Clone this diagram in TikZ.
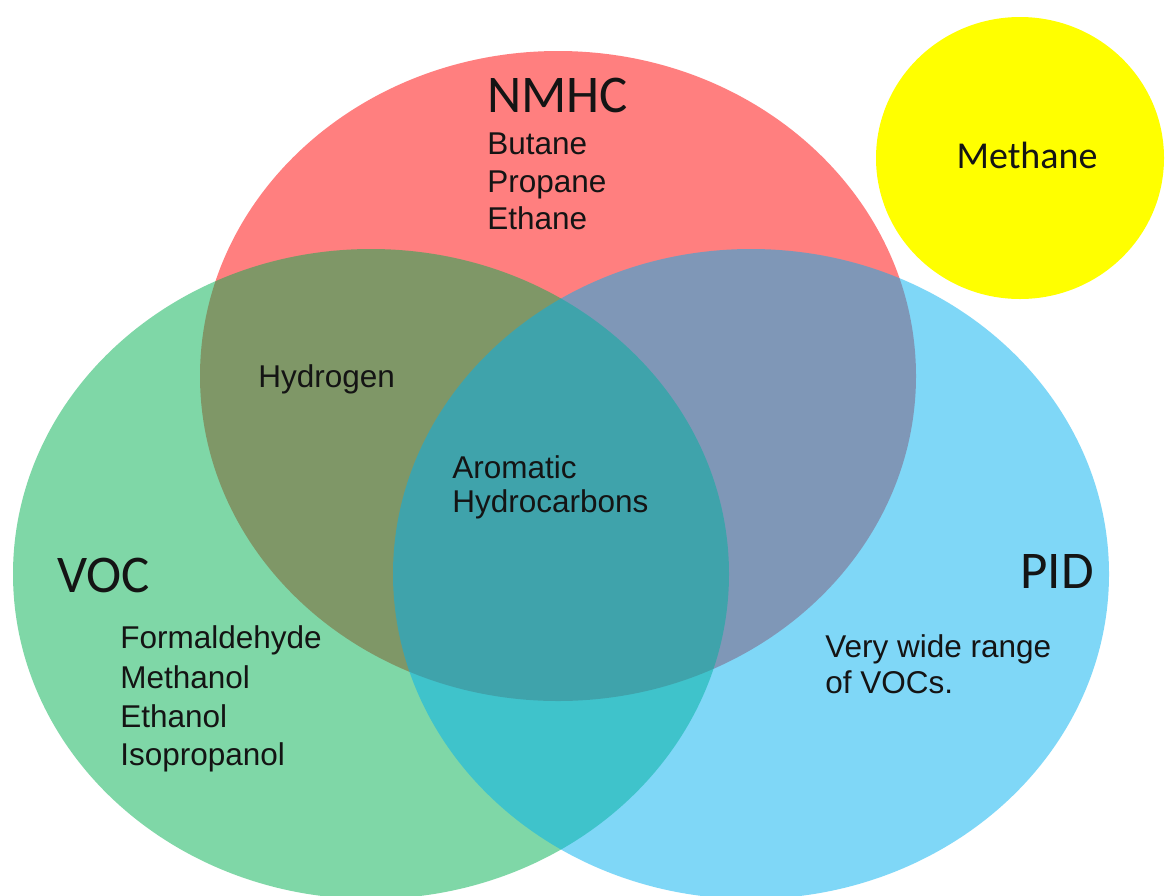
\documentclass[tikz,border=0pt]{standalone}
\usepackage{fontspec}
\setmainfont{Liberation Sans}
\newfontfamily\headfont{Carlito}
\definecolor{nmhc}{HTML}{FF0000}
\definecolor{voc}{HTML}{00B050}
\definecolor{pid}{HTML}{00B0F0}
\definecolor{methane}{HTML}{FFFF00}
\definecolor{ink}{HTML}{141414}
\tikzset{
  setfill/.style={fill opacity=0.5},
  heading/.style={font=\headfont\fontsize{26.5}{32}\selectfont,text=ink,
                  inner sep=0pt,anchor=base west},
  item/.style={font=\fontsize{15.75}{19}\selectfont,text=ink,
               inner sep=0pt,anchor=base west}
}

\begin{document}
\begin{tikzpicture}[x=0.5pt,y=-0.5pt]
  \fill[white] (0,0) rectangle (1166,895);
  \useasboundingbox (0,0) rectangle (1166,895);

  % Sets
  \fill[nmhc,setfill] (558,376) ellipse [x radius=358,y radius=325];
  \fill[voc,setfill] (371,574) ellipse [x radius=358,y radius=325];
  \fill[pid,setfill] (751,574) ellipse [x radius=358,y radius=325];
  \fill[methane] (1020,158) ellipse [x radius=144,y radius=141];

  % NMHC
  \node[heading] (nmhc) at (487,112) {NMHC};
  \node[item] (butane) at (487,154) {Butane};
  \node[item] (propane) at (487,192) {Propane};
  \node[item] (ethane) at (487,229) {Ethane};

  % Methane
  \node[heading,anchor=base,font=\headfont\fontsize{19}{23}\selectfont]
    (methanetxt) at (1027,168) {Methane};

  % Overlaps
  \node[item] (hydrogen) at (258,387) {Hydrogen};
  \node[item] (aromatic) at (452,478) {Aromatic};
  \node[item] (hydrocarb) at (452,512) {Hydrocarbons};

  % VOC
  \node[heading] (voc) at (57,592) {VOC};
  \node[item] (formald) at (120,648) {Formaldehyde};
  \node[item] (methanol) at (120,688) {Methanol};
  \node[item] (ethanol) at (120,727) {Ethanol};
  \node[item] (isoprop) at (120,765) {Isopropanol};

  % PID
  \node[heading] (pid) at (1020,588) {PID};
  \node[item] (range) at (825,657) {Very wide range};
  \node[item] (vocs) at (825,693) {of VOCs.};
\end{tikzpicture}
\end{document}
